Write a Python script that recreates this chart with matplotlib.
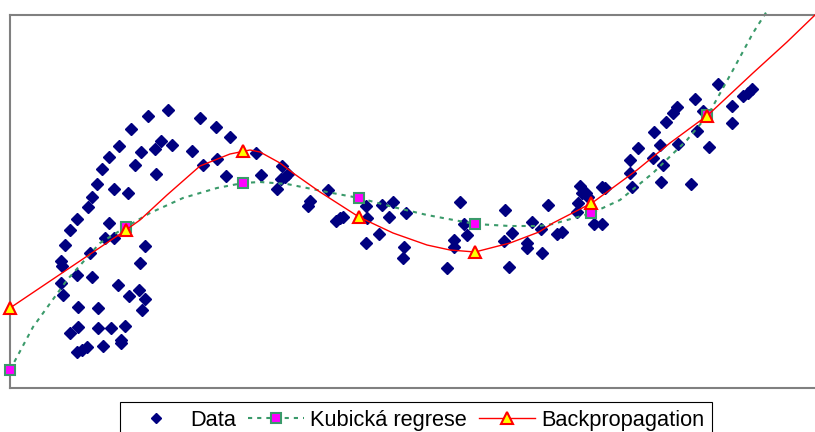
import matplotlib
matplotlib.use("Agg")
import matplotlib.pyplot as plt

plt.rcParams['font.family'] = ['Liberation Sans', 'DejaVu Sans']

# measured data (x, y)
data_x = [15.8, 13.8, 12.1, 15.1, 14.5, 16.2, 10.9, 13.1, 9.9, 12.5,
          9.2, 14.6, 8.7, 10.4, 11.8, 8.2, 7.8, 6.7, 9.9, 6.0,
          9.5, 10.4, 5.5, 13.5, 8.0, 5.1, 5.2, 13.0, 6.7, 8.2,
          5.1, 10.8, 12.9, 11.9, 5.3, 13.5, 13.2, 6.8, 8.8, 11.5,
          6.8, 8.8, 10.1, 6.0, 11.1, 11.1, 9.3, 6.7, 7.2, 7.7,
          19.0, 20.6, 22.0, 18.2, 24.6, 20.7, 19.3, 27.2, 21.6, 25.1,
          27.8, 27.5, 27.1, 26.7, 30.0, 29.8, 31.8, 35.6, 35.7, 32.6,
          33.0, 33.3, 37.2, 38.3, 37.9, 39.6, 36.9, 35.6, 39.4, 39.3,
          45.0, 45.4, 45.7, 44.4, 44.4, 43.7, 49.5, 50.2, 49.4, 49.9,
          52.2, 51.7, 51.7, 53.2, 53.1, 53.8, 54.7, 55.2, 56.7, 57.0,
          57.2, 57.6, 57.8, 56.8, 58.4, 59.2, 59.2, 59.5, 62.2, 62.0,
          62.0, 62.8, 64.3, 65.0, 65.3, 65.1, 64.4, 65.6, 66.3, 66.7,
          66.8, 68.1, 68.5, 68.7, 69.3, 69.9, 70.8, 72.2, 72.2, 73.3,
          73.8, 74.2]
data_y = [27.8, 27.2, 25.9, 24.7, 23.9, 24.3, 24.2, 23.6, 23.1, 22.3,
          21.9, 21.4, 20.4, 19.9, 19.5, 19.1, 18.1, 16.9, 16.5, 15.8,
          15.0, 15.0, 14.3, 14.2, 13.5, 12.7, 12.2, 12.5, 11.3, 11.1,
          10.5, 10.3, 9.8, 9.2, 9.3, 8.9, 7.8, 8.1, 8.0, 6.2,
          6.1, 6.0, 6.0, 5.5, 4.8, 4.5, 4.2, 3.6, 3.8, 4.1,
          27.0, 26.1, 25.1, 23.7, 23.5, 22.9, 22.3, 22.2, 21.2, 21.3,
          21.4, 21.1, 20.9, 19.9, 18.7, 18.2, 19.8, 18.2, 17.0, 16.7,
          17.0, 17.1, 18.3, 18.6, 17.1, 17.5, 15.4, 14.5, 14.1, 13.0,
          18.6, 16.4, 15.3, 14.8, 14.1, 12.0, 17.8, 15.5, 14.7, 12.1,
          16.6, 14.5, 14.0, 13.5, 15.9, 18.3, 15.4, 15.6, 17.6, 20.2,
          19.5, 19.5, 19.1, 18.5, 16.4, 16.4, 20.1, 20.0, 20.1, 21.5,
          22.8, 24.0, 23.0, 24.3, 22.3, 20.6, 25.6, 26.6, 27.5, 28.1,
          24.4, 20.4, 28.9, 25.7, 27.7, 24.1, 30.4, 28.2, 26.5, 29.2,
          29.5, 29.9]

# model outputs at the 7 evaluation points
model_x = [0.0, 11.6, 23.3, 34.9, 46.5, 58.1, 69.7]
cubic_pts = [1.8, 16.1, 20.5, 19.0, 16.4, 17.5, 27.3]
bp_pts = [8.0, 15.8, 23.7, 17.1, 13.6, 18.5, 27.2]

# curves
cubic_cx = [0.0, 2.3, 5.7, 9.0, 11.6, 14.0, 17.3, 20.7, 23.3, 25.0, 27.7,
            31.7, 34.9, 38.3, 41.7, 46.5, 50.0, 52.9, 54.3, 58.2, 61.0,
            64.3, 67.7, 69.8, 72.3, 74.3, 75.7]
cubic_cy = [1.8, 6.1, 10.8, 14.5, 16.1, 17.5, 19.0, 20.0, 20.5, 20.6, 20.4,
            19.6, 19.0, 18.1, 17.3, 16.4, 16.2, 16.2, 16.4, 17.5, 18.8,
            21.5, 24.8, 27.3, 31.8, 35.5, 37.7]
bp_cx = [0.0, 5.8, 11.6, 13.0, 15.7, 19.0, 22.0, 24.0, 25.0, 27.0, 28.3,
         31.0, 34.9, 38.3, 41.7, 44.0, 46.5, 50.0, 52.9, 54.3, 58.2,
         62.7, 66.0, 69.8, 74.3, 77.7, 80.5]
bp_cy = [8.0, 11.9, 15.8, 16.8, 19.3, 22.2, 23.4, 23.8, 23.6, 22.5, 21.5,
         19.6, 17.1, 15.5, 14.3, 13.8, 13.6, 14.5, 15.6, 16.5, 18.5,
         21.8, 24.5, 27.3, 31.5, 34.6, 37.3]

green = '#3a9a6a'

fig = plt.figure(figsize=(8.15, 4.32), dpi=100)
ax = fig.add_axes([10 / 815, 44 / 432, 805 / 815, 373 / 432])

ax.plot(data_x, data_y, linestyle='none', marker='D', markersize=6.2,
        color='#000080', label='Data', clip_on=False)

ax.plot(cubic_cx, cubic_cy, color=green, lw=1.5, linestyle=(0, (2.0, 2.4)),
        clip_on=False)
ax.plot(model_x, cubic_pts, linestyle='none', marker='s', markersize=7.8,
        markerfacecolor='#ff00ff', markeredgecolor=green, markeredgewidth=1.5,
        clip_on=False, zorder=3)

ax.plot(bp_cx, bp_cy, color='#ff0000', lw=1.0, clip_on=False, zorder=4)
ax.plot(model_x, bp_pts, linestyle='none', marker='^', markersize=9,
        markerfacecolor='#ffff00', markeredgecolor='#ff0000', markeredgewidth=1.5,
        clip_on=False, zorder=5)

ax.set_xlim(0, 80.5)
ax.set_ylim(0, 37.3)
ax.set_xticks([])
ax.set_yticks([])
for side in ['left', 'top', 'bottom']:
    ax.spines[side].set_color('#808080')
    ax.spines[side].set_linewidth(1.5)
ax.spines['right'].set_visible(False)

# legend proxies
h_data, = ax.plot([], [], linestyle='none', marker='D', markersize=5.6, color='#000080')
h_cubic, = ax.plot([], [], color=green, lw=1.5, linestyle=(0, (2.0, 2.4)), marker='s',
                   markersize=7.5, markerfacecolor='#ff00ff', markeredgecolor=green,
                   markeredgewidth=1.5)
h_bp, = ax.plot([], [], color='#ff0000', lw=1.0, marker='^', markersize=8.5,
                markerfacecolor='#ffff00', markeredgecolor='#ff0000', markeredgewidth=1.5)

leg = fig.legend([h_data, h_cubic, h_bp], ['Data', 'Kubická regrese', 'Backpropagation'],
                 loc='upper left', bbox_to_anchor=(120 / 815, 30 / 432), ncol=3,
                 fontsize=15.65, frameon=True, fancybox=False, shadow=False,
                 handlelength=2.58, handletextpad=0.28, columnspacing=0.55,
                 borderpad=0.37, borderaxespad=0, numpoints=1)
leg.get_frame().set_edgecolor('black')
leg.get_frame().set_linewidth(0.8)
leg.get_frame().set_alpha(None)

fig.savefig('out.png', dpi=100)
